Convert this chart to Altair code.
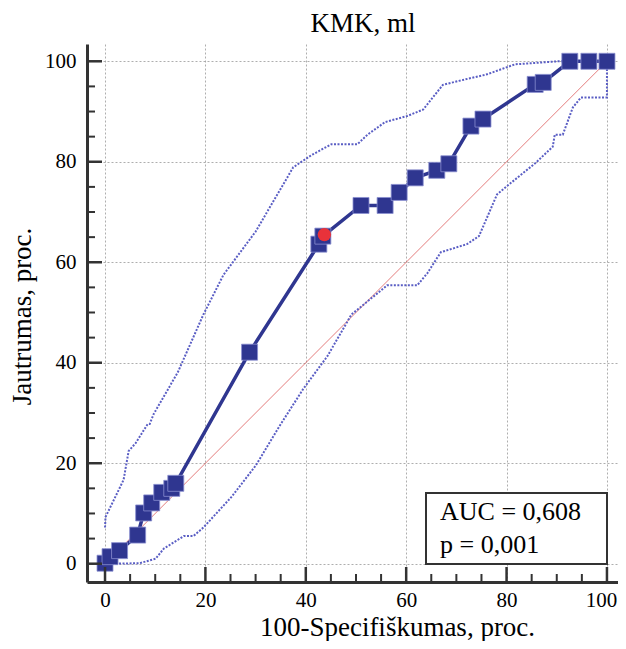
import altair as alt
import pandas as pd

# ROC curve points (100-Specificity, Sensitivity)
roc_x = [0, 1, 2.9, 6.5, 7.7, 9.3, 11.3, 13.3, 14.1, 28.8, 42.6, 43.4, 51, 55.8, 58.6, 61.8, 66.1, 68.5, 72.9, 75.3, 85.7, 87.3, 92.6, 96.4, 100]
roc_y = [0.1, 1.4, 2.6, 5.7, 10.1, 12.1, 14.2, 15.0, 16.0, 42.1, 63.6, 65.2, 71.3, 71.3, 73.9, 76.8, 78.3, 79.6, 87.1, 88.5, 95.4, 95.8, 100, 100, 100]

# upper confidence band
up_x = [0, 0.1, 2.1, 3.7, 4.7, 6.1, 8.5, 8.9, 9.7, 14.5, 19.6, 23.6, 30, 37.5, 41.1, 45.1, 50.3, 52.3, 55.8, 60.2, 63.4, 67.3, 70.5, 76.1, 81.7, 90.4, 100]
up_y = [7.2, 9.3, 13.4, 16.7, 22.4, 24, 27.8, 27.8, 29.8, 38.1, 49.6, 57.5, 66.1, 78.9, 81.3, 83.5, 83.5, 85.4, 87.9, 89.1, 90.4, 95.3, 96.1, 97.4, 99.4, 100, 100]

# lower confidence band
lo_x = [1.4, 6.9, 10.1, 11.7, 15.7, 17.6, 19.6, 25.2, 30, 34.7, 39.5, 44.3, 49.1, 56.2, 62.2, 64.2, 66.9, 72.1, 74.5, 78.1, 80.5, 85.7, 89.2, 89.6, 91.2, 93.2, 94.8, 100, 100]
lo_y = [0, 0.1, 1, 3.0, 5.5, 5.5, 7.2, 13.3, 19.5, 27.3, 34.8, 41.3, 49.6, 55.4, 55.4, 57.8, 62, 63.6, 65.2, 73.5, 75.5, 79.7, 83, 85.4, 85.4, 90.8, 92.8, 92.8, 100]

# optimal criterion point
opt_x = [43.7]
opt_y = [65.5]

diag = [0, 100]
major_ticks = [0, 20, 40, 60, 80, 100]
minor_ticks = [5, 10, 15, 25, 30, 35, 45, 50, 55, 65, 70, 75, 85, 90, 95]
title_text = ["KMK, ml"]
auc_lines = ["AUC = 0,608", "p = 0,001"]

W, H = 531, 538
FONT = "Liberation Serif"
NAVY = "#2f3690"

xs = alt.Scale(domain=[-3.59, 102.2], nice=False, zero=False)
ys = alt.Scale(domain=[-3.64, 103.44], nice=False, zero=False)

xaxis = alt.Axis(values=major_ticks, title="100-Specifiškumas, proc.", titleX=310, titleY=53,
                 titleBaseline="alphabetic", titleAlign="center",
                 labelFont=FONT, labelFontSize=21, labelPadding=24, labelBaseline="alphabetic",
                 labelOffset={"condition": {"test": "datum.value == 100", "value": -6}, "value": 0},
                 titleFont=FONT, titleFontSize=27)
yaxis = alt.Axis(values=major_ticks, title="Jautrumas, proc.", titleX=-57, titleY=272,
                 titleBaseline="alphabetic", titleAlign="center", titleAngle=-90,
                 labelFont=FONT, labelFontSize=21, labelPadding=11,
                 titleFont=FONT, titleFontSize=27)


def X():
    return alt.X("x:Q", scale=xs, axis=xaxis)


def Y():
    return alt.Y("y:Q", scale=ys, axis=yaxis)


roc = pd.DataFrame({"x": roc_x, "y": roc_y, "i": range(len(roc_x))})
up = pd.DataFrame({"x": up_x, "y": up_y, "i": range(len(up_x))})
lo = pd.DataFrame({"x": lo_x, "y": lo_y, "i": range(len(lo_x))})
opt = pd.DataFrame({"x": opt_x, "y": opt_y})
dg = pd.DataFrame({"x": diag, "y": diag})
mj = pd.DataFrame({"x": major_ticks, "y": major_ticks})
mn = pd.DataFrame({"x": minor_ticks, "y": minor_ticks})

diag_l = alt.Chart(dg).mark_line(color="#d94a4a", strokeWidth=0.8, opacity=0.9).encode(x=X(), y=Y())
up_l = alt.Chart(up).mark_line(color="#5a5ec4", strokeWidth=2, strokeDash=[2, 1.5]).encode(x=X(), y=Y(), order="i:Q")
lo_l = alt.Chart(lo).mark_line(color="#5a5ec4", strokeWidth=2, strokeDash=[2, 1.5]).encode(x=X(), y=Y(), order="i:Q")
roc_l = alt.Chart(roc).mark_line(color=NAVY, strokeWidth=3.5).encode(x=X(), y=Y(), order="i:Q")
roc_p = alt.Chart(roc).mark_point(shape="square", filled=True, size=256, color=NAVY,
                                  stroke="#8a8fd0", strokeWidth=0.8, opacity=1).encode(x=X(), y=Y())
opt_p = alt.Chart(opt).mark_circle(size=180, color="#e8323a", opacity=1).encode(x=X(), y=Y())

ytick_major = alt.Chart(mj).mark_rule(color="#333", strokeWidth=2.5).encode(y=Y(), x=alt.value(0), x2=alt.value(15))
ytick_minor = alt.Chart(mn).mark_rule(color="#333", strokeWidth=2).encode(y=Y(), x=alt.value(0), x2=alt.value(8))
xtick_major = alt.Chart(mj).mark_rule(color="#333", strokeWidth=2.5).encode(x=X(), y=alt.value(H), y2=alt.value(H - 15))
xtick_minor = alt.Chart(mn).mark_rule(color="#333", strokeWidth=2).encode(x=X(), y=alt.value(H), y2=alt.value(H - 8))

box = alt.Chart(pd.DataFrame({"t": [0]})).mark_rect(fill="white", stroke="#333", strokeWidth=2).encode(
    x=alt.value(339), x2=alt.value(520), y=alt.value(449), y2=alt.value(520))
txt1 = alt.Chart(pd.DataFrame({"t": [auc_lines[0]]})).mark_text(
    align="left", baseline="alphabetic", font=FONT, fontSize=26, color="black").encode(
    x=alt.value(353), y=alt.value(475.5), text="t:N")
txt2 = alt.Chart(pd.DataFrame({"t": [auc_lines[1]]})).mark_text(
    align="left", baseline="alphabetic", font=FONT, fontSize=26, color="black").encode(
    x=alt.value(353), y=alt.value(508.5), text="t:N")
ttl = alt.Chart(pd.DataFrame({"t": title_text})).mark_text(
    align="center", baseline="alphabetic", font=FONT, fontSize=27, color="black").encode(
    x=alt.value(276), y=alt.value(-12), text="t:N")

chart = alt.layer(
    diag_l, up_l, lo_l, roc_l, roc_p, opt_p,
    ytick_major, ytick_minor, xtick_major, xtick_minor,
    box, txt1, txt2, ttl,
).properties(
    width=W, height=H,
    autosize=alt.AutoSizeParams(type="none"),
    padding={"left": 79, "top": 36, "right": 0, "bottom": 59},
).configure_view(stroke=None).configure_axis(
    grid=True, gridColor="#999", gridDash=[2, 2], gridWidth=0.8,
    domainColor="#333", domainWidth=3, ticks=False, tickSize=0,
    labelColor="black", titleFontWeight="normal", titleColor="black",
)

chart.save("out.html", embed_options={"renderer": "svg", "actions": False})
